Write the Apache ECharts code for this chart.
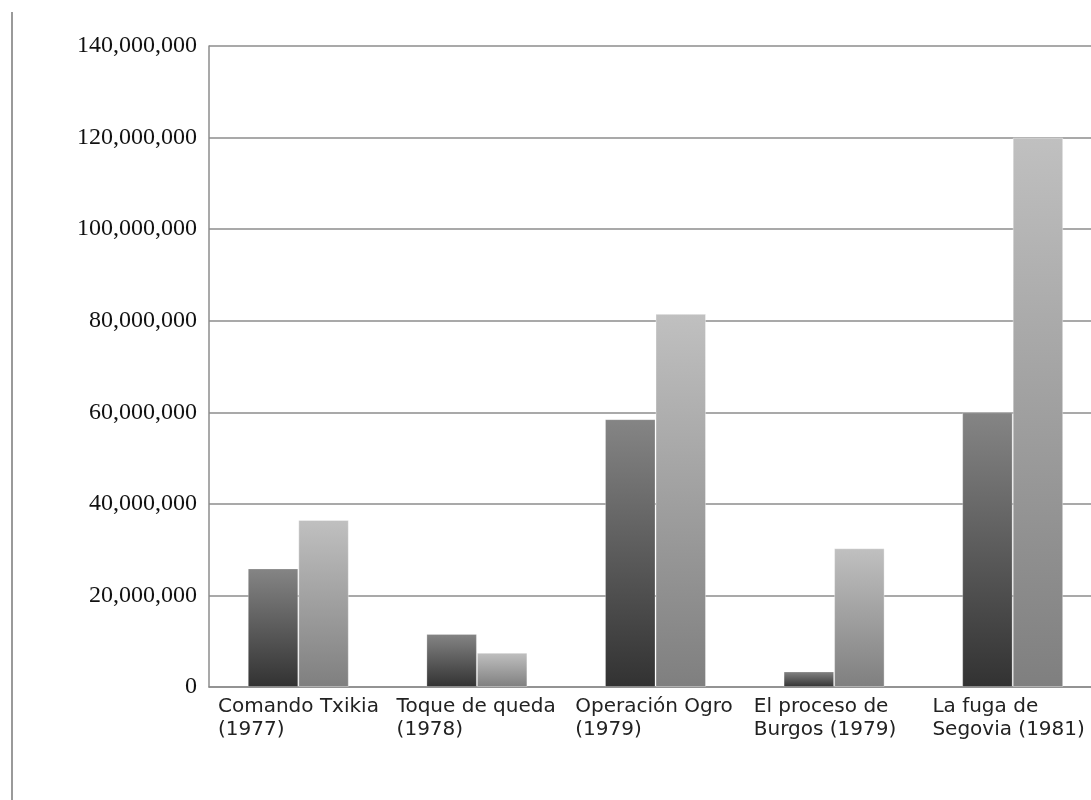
<!DOCTYPE html>
<html>
<head>
<meta charset="utf-8">
<title>Recaudación</title>
<script src="https://cdn.jsdelivr.net/npm/echarts@6/dist/echarts.min.js"></script>
<style>
  html, body { margin: 0; padding: 0; background: #fff; }
  #chart { width: 1091px; height: 800px; }
</style>
</head>
<body>
<div id="chart"></div>
<script type="text/javascript">
// datos
var categories = [
    'Comando Txikia\n(1977)',
    'Toque de queda\n(1978)',
    'Operación Ogro\n(1979)',
    'El proceso de\nBurgos (1979)',
    'La fuga de\nSegovia (1981)'
];
var serieOscura = [25900000, 11600000, 58500000, 3400000, 60000000];
var serieClara = [36500000, 7500000, 81500000, 30300000, 120000000];
var yTicks = [0, 20000000, 40000000, 60000000, 80000000, 100000000, 120000000, 140000000];

var chart = echarts.init(document.getElementById('chart'));

function grad(top, bottom) {
    return new echarts.graphic.LinearGradient(0, 0, 0, 1, [
        { offset: 0, color: top },
        { offset: 1, color: bottom }
    ]);
}

var option = {
    animation: false,
    backgroundColor: '#fff',
    grid: { left: 209, top: 46, bottom: 113, right: -11, containLabel: false, outerBoundsMode: 'none' },
    graphic: [{
        type: 'line',
        shape: { x1: 12, y1: 12, x2: 12, y2: 800 },
        style: { stroke: '#9a9a9a', lineWidth: 2 }
    }],
    xAxis: [{
        type: 'category',
        data: categories,
        axisLine: { show: true, lineStyle: { color: '#8c8c8c', width: 1.5 } },
        axisTick: { show: false },
        axisLabel: { show: false }
    }, {
        // solo para las etiquetas, alineadas al inicio de cada banda
        type: 'category',
        boundaryGap: false,
        position: 'bottom',
        data: categories.concat(['']),
        axisLine: { show: false },
        axisTick: { show: false },
        axisLabel: {
            interval: 0,
            align: 'left',
            margin: 8,
            padding: [0, 0, 0, 9],
            color: '#222',
            fontFamily: 'DejaVu Sans',
            fontSize: 20,
            lineHeight: 23
        }
    }],
    yAxis: {
        type: 'value',
        min: yTicks[0],
        max: yTicks[yTicks.length - 1],
        interval: yTicks[1] - yTicks[0],
        axisLine: { show: true, lineStyle: { color: '#8c8c8c', width: 1.5 } },
        axisTick: { show: false },
        splitLine: { lineStyle: { color: '#8c8c8c', width: 1.5 } },
        axisLabel: {
            margin: 12,
            color: '#111',
            fontFamily: 'Liberation Serif',
            fontSize: 24,
            formatter: function (v) {
                return v.toLocaleString('en-US');
            }
        }
    },
    series: [{
        type: 'bar',
        data: serieOscura,
        barWidth: 50.5,
        barGap: '0%',
        itemStyle: {
            color: grad('#858585', '#323232'),
            borderColor: 'rgba(255,255,255,0.25)',
            borderWidth: 1
        }
    }, {
        type: 'bar',
        data: serieClara,
        barWidth: 50.5,
        barGap: '0%',
        itemStyle: {
            color: grad('#c0c0c0', '#7f7f7f'),
            borderColor: 'rgba(255,255,255,0.35)',
            borderWidth: 1
        }
    }]
};

chart.setOption(option);
</script>
</body>
</html>
